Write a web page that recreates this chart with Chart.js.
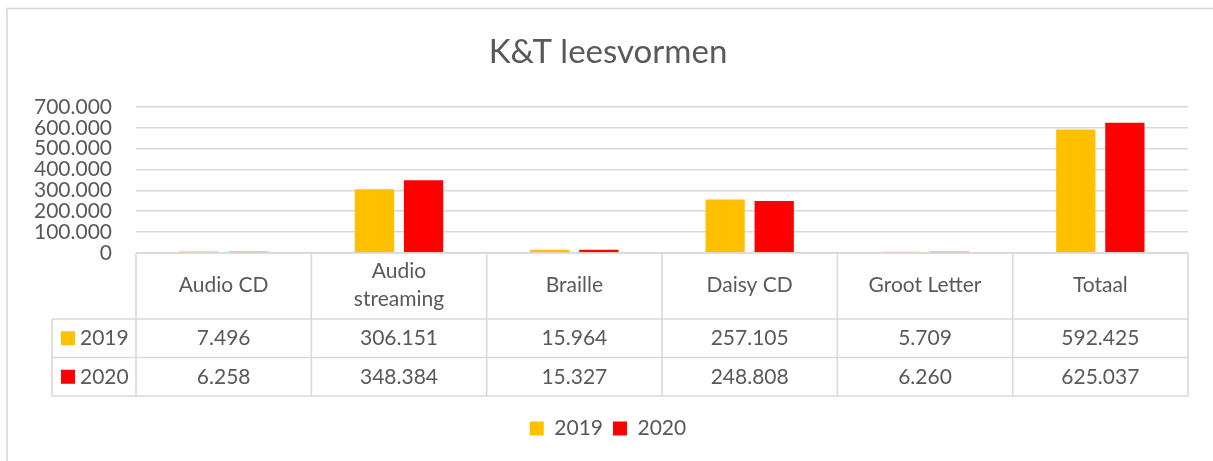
<!DOCTYPE html>
<html>
<head>
<meta charset="utf-8">
<script src="https://cdn.jsdelivr.net/npm/chart.js@4.4.0/dist/chart.umd.min.js"></script>
<style>
html,body{margin:0;padding:0;background:#fff;}
#wrap{width:1213px;height:461px;position:relative;}
</style>
</head>
<body>
<div id="wrap"><canvas id="c" width="1213" height="461"></canvas></div>
<script>
const categories = ['Audio CD', ['Audio', 'streaming'], 'Braille', 'Daisy CD', 'Groot Letter', 'Totaal'];
const seriesNames = ['2019', '2020'];
const values2019 = [7496, 306151, 15964, 257105, 5709, 592425];
const values2020 = [6258, 348384, 15327, 248808, 6260, 625037];
const yTicks = [0, 100000, 200000, 300000, 400000, 500000, 600000, 700000];
const colors = ['#FFC000', '#FF0000'];

const TEXT = '#595959';
const LINE = '#d9d9d9';
const FONT = 'Lato, "Open Sans", sans-serif';
const PAD_LEFT = 28;

function fmt(n) {
  return String(n).replace(/\B(?=(\d{3})+(?!\d))/g, '.');
}

const frame = {
  id: 'frame',
  beforeDraw(chart) {
    const ctx = chart.ctx;
    ctx.save();
    ctx.fillStyle = '#fff';
    ctx.fillRect(0, 0, chart.width, chart.height);
    ctx.strokeStyle = LINE;
    ctx.lineWidth = 1.6;
    ctx.strokeRect(7, 8.5, chart.width + 20, chart.height + 20);
    ctx.restore();
  }
};

const dataTable = {
  id: 'dataTable',
  afterDraw(chart) {
    const ctx = chart.ctx;
    const xs = chart.scales.x;
    const area = chart.chartArea;
    const n = categories.length;
    const colW = (area.right - area.left) / n;
    const top = area.bottom;
    const headH = 66;
    const rowH = 38.5;
    const legendLeft = 52;
    const rows = [values2019, values2020];
    ctx.save();
    ctx.strokeStyle = LINE;
    ctx.lineWidth = 1.6;
    ctx.beginPath();
    ctx.moveTo(area.left, top); ctx.lineTo(area.right, top);
    for (let r = 0; r <= rows.length; r++) {
      const y = top + headH + r * rowH;
      ctx.moveTo(legendLeft, y); ctx.lineTo(area.right, y);
    }
    for (let i = 0; i <= n; i++) {
      const x = area.left + i * colW;
      ctx.moveTo(x, top); ctx.lineTo(x, top + headH + rows.length * rowH);
    }
    ctx.moveTo(legendLeft, top + headH); ctx.lineTo(legendLeft, top + headH + rows.length * rowH);
    ctx.stroke();

    ctx.fillStyle = TEXT;
    ctx.font = '21px ' + FONT;
    ctx.textAlign = 'center';
    ctx.textBaseline = 'middle';
    categories.forEach((c, i) => {
      const cx = xs.getPixelForValue(i);
      const lines = Array.isArray(c) ? c : [c];
      const lh = 28;
      const cy = top + headH / 2 - 1 - (lines.length - 1) * lh / 2;
      lines.forEach((t, k) => ctx.fillText(t, cx, cy + k * lh));
    });
    rows.forEach((vals, r) => {
      const cy = top + headH + r * rowH + rowH / 2;
      vals.forEach((v, i) => {
        ctx.fillText(fmt(v), xs.getPixelForValue(i), cy);
      });
      ctx.fillStyle = colors[r];
      ctx.fillRect(61, cy - 7, 14, 14);
      ctx.fillStyle = TEXT;
      ctx.textAlign = 'left';
      ctx.fillText(seriesNames[r], 80, cy);
      ctx.textAlign = 'center';
    });
    ctx.restore();
  }
};

new Chart(document.getElementById('c'), {
  type: 'bar',
  data: {
    labels: categories,
    datasets: [
      { label: seriesNames[0], data: values2019, backgroundColor: colors[0], borderWidth: 0,
        categoryPercentage: 0.56, barPercentage: 0.8 },
      { label: seriesNames[1], data: values2020, backgroundColor: colors[1], borderWidth: 0,
        categoryPercentage: 0.56, barPercentage: 0.8 }
    ]
  },
  options: {
    responsive: false,
    animation: false,
    devicePixelRatio: 1,
    layout: { padding: { left: PAD_LEFT, right: 25, top: 0, bottom: 12 } },
    plugins: {
      title: {
        display: true,
        text: 'K&T leesvormen',
        color: TEXT,
        font: { family: FONT, size: 33, weight: 'normal' },
        padding: { top: 33, bottom: 34.4 }
      },
      legend: {
        display: true,
        position: 'bottom',
        labels: {
          color: TEXT,
          font: { family: FONT, size: 21 },
          boxWidth: 14,
          boxHeight: 14,
          padding: 10
        }
      },
      tooltip: { enabled: false }
    },
    scales: {
      x: {
        grid: { display: false },
        border: { display: false },
        ticks: { display: false },
        afterFit(scale) { scale.height = 155; }
      },
      y: {
        min: 0,
        max: 700000,
        afterBuildTicks(scale) { scale.ticks = yTicks.map(v => ({ value: v })); },
        afterFit(scale) { scale.width = 136 - PAD_LEFT; },
        grid: { color: LINE, lineWidth: 1.6, drawTicks: false },
        border: { display: false },
        ticks: {
          color: TEXT,
          font: { family: FONT, size: 21 },
          padding: 24,
          autoSkip: false,
          callback: v => fmt(v)
        }
      }
    }
  },
  plugins: [frame, dataTable]
});
</script>
</body>
</html>
